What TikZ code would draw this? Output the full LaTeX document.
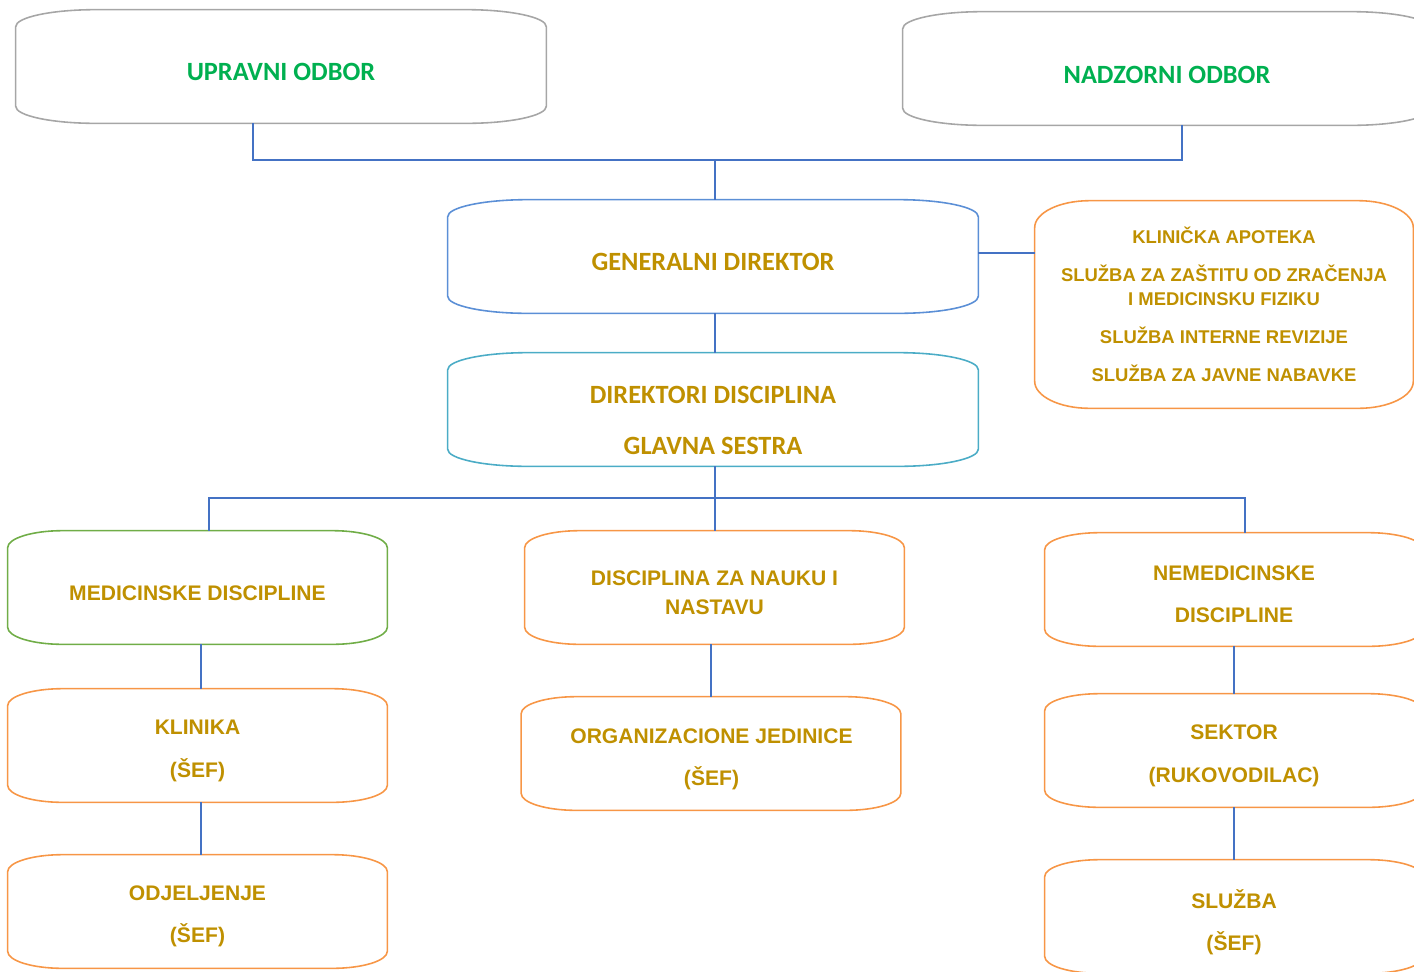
\documentclass[tikz,border=0pt]{standalone}
\usepackage{fontspec}
\setmainfont{Liberation Sans}
\newfontfamily\calibri{Carlito}

\definecolor{boardgreen}{HTML}{00B050}
\definecolor{gold}{HTML}{BF9000}
\definecolor{linkblue}{HTML}{4472C4}
\definecolor{framegray}{HTML}{A6A6A6}
\definecolor{frameblue}{HTML}{5B8FD6}
\definecolor{frameteal}{HTML}{4BACC6}
\definecolor{framegreen}{HTML}{70AD47}
\definecolor{frameorange}{HTML}{F79646}

\tikzset{
  box/.style={rectangle, inner sep=0pt, minimum width=#1, minimum height=2.26cm},
  box/.default=7.58cm,
  frame/.style={draw=#1, line width=0.9pt},
  link/.style={draw=linkblue, line width=1.1pt},
  boardtxt/.style={text=boardgreen, font=\calibri\bfseries\fontsize{15}{18}\selectfont},
  headtxt/.style={text=gold, font=\calibri\bfseries\fontsize{15}{18}\selectfont, align=center},
  unittxt/.style={text=gold, font=\bfseries\fontsize{12}{14}\selectfont, align=center}
}

% box outline with elliptic corners: colour, node, x radius, y radius
\newcommand\ovalframe[4]{%
  \draw[frame=#1] ([xshift=#3]#2.north west) -- ([xshift=-#3]#2.north east)
    arc[start angle=90, end angle=0, x radius=#3, y radius=#4]
    -- ([yshift=#4]#2.south east)
    arc[start angle=0, end angle=-90, x radius=#3, y radius=#4]
    -- ([xshift=#3]#2.south west)
    arc[start angle=270, end angle=180, x radius=#3, y radius=#4]
    -- ([yshift=-#4]#2.north west)
    arc[start angle=180, end angle=90, x radius=#3, y radius=#4]
    -- cycle;}

\begin{document}
\begin{tikzpicture}[x=0.02cm, y=-0.02cm]
  \useasboundingbox (0,0) rectangle (1414,971);
  \clip (0,0) rectangle (1414,971);

  % boards
  \node[box=10.6cm] (upravni) at (281,66.5) {};
  \node[box=10.56cm] (nadzorni) at (1167,68.5) {};
  % management
  \node[box=10.6cm] (gendir) at (713,256.5) {};
  \node[box=7.56cm, minimum height=4.14cm] (apoteka) at (1224,304.5) {};
  \node[box=10.6cm] (direktori) at (713,409.5) {};
  % disciplines
  \node[box] (medicinske) at (197.5,587.5) {};
  \node[box] (nauka) at (714.5,587.5) {};
  \node[box=7.56cm] (nemedicinske) at (1234,589.5) {};
  % units
  \node[box] (klinika) at (197.5,745.5) {};
  \node[box] (odjeljenje) at (197.5,911.5) {};
  \node[box] (orgjed) at (711,753.5) {};
  \node[box=7.56cm] (sektor) at (1234,750.5) {};
  \node[box=7.56cm] (sluzba) at (1234,916.5) {};

  \ovalframe{framegray}{upravni}{1.6cm}{0.34cm}
  \ovalframe{framegray}{nadzorni}{1.6cm}{0.34cm}
  \ovalframe{frameblue}{gendir}{1.6cm}{0.34cm}
  \ovalframe{frameorange}{apoteka}{1.1cm}{0.54cm}
  \ovalframe{frameteal}{direktori}{1.6cm}{0.34cm}
  \ovalframe{framegreen}{medicinske}{1.1cm}{0.34cm}
  \ovalframe{frameorange}{nauka}{1.1cm}{0.34cm}
  \ovalframe{frameorange}{nemedicinske}{1.1cm}{0.34cm}
  \ovalframe{frameorange}{klinika}{1.1cm}{0.34cm}
  \ovalframe{frameorange}{odjeljenje}{1.1cm}{0.34cm}
  \ovalframe{frameorange}{orgjed}{1.1cm}{0.34cm}
  \ovalframe{frameorange}{sektor}{1.1cm}{0.34cm}
  \ovalframe{frameorange}{sluzba}{1.1cm}{0.34cm}

  % texts
  \node[boardtxt] (upravni-t) at (281,72) {UPRAVNI ODBOR};
  \node[boardtxt] (nadzorni-t) at (1167,75) {NADZORNI ODBOR};
  \node[headtxt] (gendir-t) at (713,262) {GENERALNI DIREKTOR};
  \node[unittxt, font=\bfseries\fontsize{10.5}{13.6}\selectfont] (apoteka-t) at (1224,304)
    {KLINIČKA APOTEKA\\[8pt]SLUŽBA ZA ZAŠTITU OD ZRAČENJA\\I MEDICINSKU FIZIKU\\[8pt]SLUŽBA INTERNE REVIZIJE\\[8pt]SLUŽBA ZA JAVNE NABAVKE};
  \node[headtxt] (direktori-t) at (713,420.5) {DIREKTORI DISCIPLINA\\[11pt]GLAVNA SESTRA};
  \node[unittxt] (medicinske-t) at (197.5,593) {MEDICINSKE DISCIPLINE};
  \node[unittxt] (nauka-t) at (714.5,592.5) {DISCIPLINA ZA NAUKU I\\[2.4pt]NASTAVU};
  \node[unittxt] (nemedicinske-t) at (1234,594) {NEMEDICINSKE\\[9.8pt]DISCIPLINE};
  \node[unittxt] (klinika-t) at (197.5,750.5) {KLINIKA\\[10.4pt](ŠEF)};
  \node[unittxt] (odjeljenje-t) at (197.5,916) {ODJELJENJE\\[10pt](ŠEF)};
  \node[unittxt] (orgjed-t) at (711.5,759) {ORGANIZACIONE JEDINICE\\[9.8pt](ŠEF)};
  \node[unittxt] (sektor-t) at (1234,755.5) {SEKTOR\\[10.4pt](RUKOVODILAC)};
  \node[unittxt] (sluzba-t) at (1234,922) {SLUŽBA\\[10pt](ŠEF)};

  % connectors
  \coordinate (boardbus) at (715,160);
  \coordinate (unitbus) at (715,498);
  \draw[link] ([xshift=-0.56cm]upravni.south) |- (boardbus) -| ([xshift=0.3cm]nadzorni.south);
  \draw[link] (boardbus) -- (boardbus |- gendir.north);
  \draw[link] ([yshift=0.07cm]gendir.east) -- ([yshift=0.07cm]gendir.east -| apoteka.west);
  \draw[link] (gendir.south -| boardbus) -- (direktori.north -| boardbus);
  \draw[link] (direktori.south -| unitbus) -- (nauka.north -| unitbus);
  \draw[link] ([xshift=0.23cm]medicinske.north) |- (unitbus) -| ([xshift=0.22cm]nemedicinske.north);
  \draw[link] ([xshift=0.07cm]medicinske.south) -- ([xshift=0.07cm]klinika.north);
  \draw[link] ([xshift=0.07cm]klinika.south) -- ([xshift=0.07cm]odjeljenje.north);
  \draw[link] (nauka.south -| orgjed.north) -- (orgjed.north);
  \draw[link] (nemedicinske.south) -- (sektor.north);
  \draw[link] (sektor.south) -- (sluzba.north);
\end{tikzpicture}
\end{document}
